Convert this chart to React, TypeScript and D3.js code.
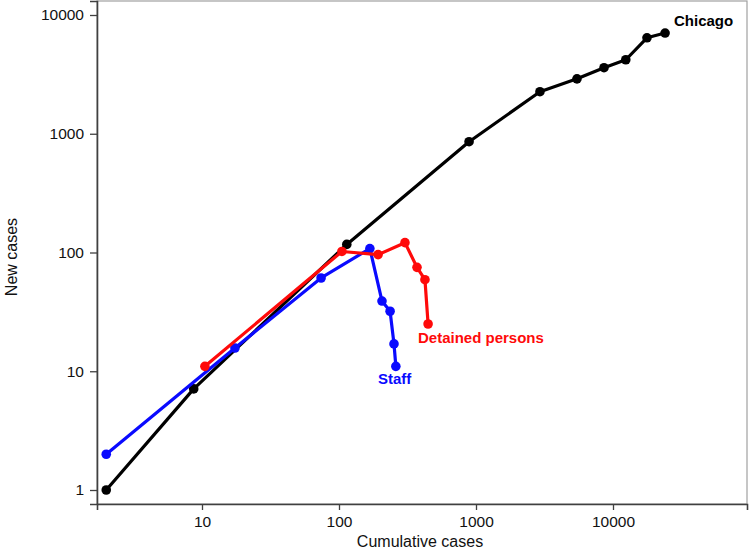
import React, { useEffect, useRef } from 'react';
import * as d3 from 'd3';

// Chicago (community), log-log: cumulative cases vs new cases
const chicagoCumulative = [2, 8.7, 114, 890, 2930, 5460, 8600, 12400, 17700, 24000];
const chicagoNew = [1, 7.1, 117, 857, 2260, 2900, 3600, 4200, 6430, 7050];

// Detained persons
const detainedCumulative = [10.5, 105, 193, 303, 371, 424, 447];
const detainedNew = [11, 102, 96, 121, 75, 59, 25];

// Staff
const staffCumulative = [2, 17.4, 74, 168, 206, 236, 252, 260];
const staffNew = [2, 15.7, 61, 108, 39, 32, 17, 11];

const xTicks = [10, 100, 1000, 10000];
const yTicks = [1, 10, 100, 1000, 10000];

const seriesList = [
  { name: 'Chicago', color: '#000000', xs: chicagoCumulative, ys: chicagoNew },
  { name: 'Staff', color: '#0a0aff', xs: staffCumulative, ys: staffNew },
  { name: 'Detained persons', color: '#ff0a0a', xs: detainedCumulative, ys: detainedNew },
];

const WIDTH = 750;
const HEIGHT = 554;

export default function App() {
  const svgRef = useRef<SVGSVGElement>(null);

  useEffect(() => {
    if (!svgRef.current) return;
    const svg = d3.select(svgRef.current);
    svg.selectAll('*').remove();

    const left = 97, right = 747, top = 1, bottom = 504;
    const font = 'Liberation Sans, Arial, sans-serif';

    // tick positions: 10 -> 202px, 10000 -> 613px ; 1 -> 490px, 10000 -> 15px
    const xDec = (613 - 202) / 3;
    const yDec = (490 - 15) / 4;
    const xMin = Math.pow(10, 1 - (202 - left) / xDec);
    const xMax = Math.pow(10, Math.log10(xMin) + (right - left) / xDec);
    const yMin = Math.pow(10, -(bottom - 490) / yDec);
    const yMax = Math.pow(10, 4 + (15 - top) / yDec);

    const x = d3.scaleLog().domain([xMin, xMax]).range([left, right]);
    const y = d3.scaleLog().domain([yMin, yMax]).range([bottom, top]);

    // frame
    svg.append('rect')
      .attr('x', left).attr('y', top)
      .attr('width', right - left).attr('height', bottom - top)
      .attr('fill', 'none')
      .attr('stroke', '#a0a0a0')
      .attr('stroke-width', 1.2);

    // x axis
    const xAxis = svg.append('g')
      .attr('transform', `translate(0,${bottom})`)
      .call(d3.axisBottom(x).tickValues(xTicks).tickFormat(d => String(d)).tickSize(6).tickPadding(6));
    xAxis.select('.domain').attr('stroke', '#404040').attr('stroke-width', 1.6);
    xAxis.selectAll('.tick line').attr('stroke', '#404040').attr('stroke-width', 1.3);
    xAxis.selectAll('text')
      .style('font-family', font)
      .style('font-size', '15.5px')
      .style('fill', '#111');

    // y axis
    const yAxis = svg.append('g')
      .attr('transform', `translate(${left},0)`)
      .call(d3.axisLeft(y).tickValues(yTicks).tickFormat(d => String(d)).tickSize(7).tickPadding(6));
    yAxis.select('.domain').attr('stroke', '#404040').attr('stroke-width', 1.6);
    yAxis.selectAll('.tick line').attr('stroke', '#404040').attr('stroke-width', 1.3);
    yAxis.selectAll('text')
      .style('font-family', font)
      .style('font-size', '15.5px')
      .style('fill', '#111');

    // axis titles
    svg.append('text')
      .attr('x', 420).attr('y', 547)
      .attr('text-anchor', 'middle')
      .style('font-family', font)
      .style('font-size', '16px')
      .style('fill', '#111')
      .text('Cumulative cases');

    svg.append('text')
      .attr('transform', `translate(17,257) rotate(-90)`)
      .attr('text-anchor', 'middle')
      .style('font-family', font)
      .style('font-size', '16px')
      .style('fill', '#111')
      .text('New cases');

    // series
    const line = d3.line<[number, number]>()
      .x(d => x(d[0]))
      .y(d => y(d[1]));

    seriesList.forEach(s => {
      const pts: [number, number][] = s.xs.map((v, i) => [v, s.ys[i]]);
      svg.append('path')
        .datum(pts)
        .attr('fill', 'none')
        .attr('stroke', s.color)
        .attr('stroke-width', 3.2)
        .attr('stroke-linejoin', 'round')
        .attr('d', line);
      svg.append('g')
        .selectAll('circle')
        .data(pts)
        .join('circle')
        .attr('cx', d => x(d[0]))
        .attr('cy', d => y(d[1]))
        .attr('r', 4.8)
        .attr('fill', s.color);
    });

    // series labels
    const labels = [
      { text: 'Chicago', color: '#000000', x: 674, y: 26 },
      { text: 'Detained persons', color: '#ff0a0a', x: 418, y: 343 },
      { text: 'Staff', color: '#0a0aff', x: 378, y: 384 },
    ];
    svg.append('g')
      .selectAll('text')
      .data(labels)
      .join('text')
      .attr('x', d => d.x)
      .attr('y', d => d.y)
      .style('font-family', font)
      .style('font-size', '15px')
      .style('font-weight', 'bold')
      .style('fill', d => d.color)
      .text(d => d.text);
  }, []);

  return (
    <div style={{ width: WIDTH, height: HEIGHT, background: '#fff' }}>
      <style>{`html, body { margin: 0; padding: 0; overflow: hidden; }`}</style>
      <svg ref={svgRef} width={WIDTH} height={HEIGHT} viewBox={`0 0 ${WIDTH} ${HEIGHT}`} style={{ display: 'block' }} />
    </div>
  );
}
